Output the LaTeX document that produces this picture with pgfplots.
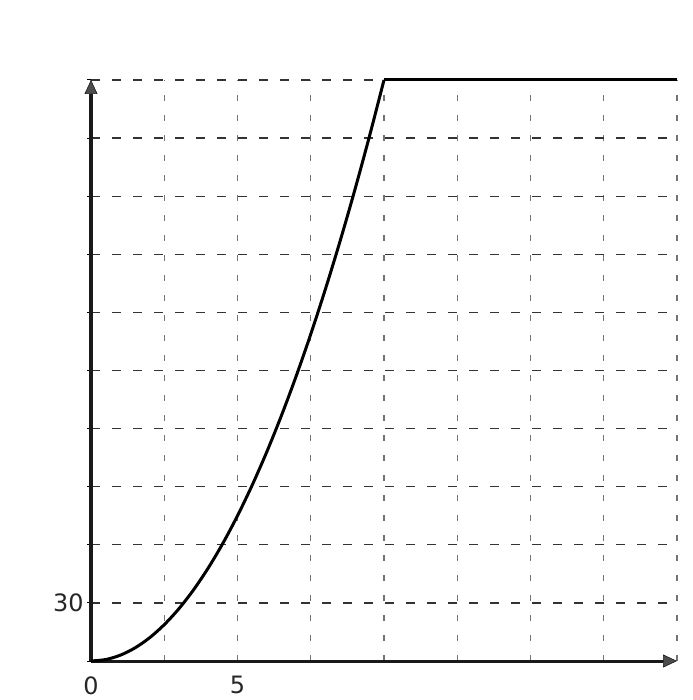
\documentclass[border=0pt]{standalone}
\usepackage{fontspec}
\setmainfont{DejaVu Sans}
\usepackage{pgfplots}
\pgfplotsset{compat=1.18}
\usetikzlibrary{arrows.meta}

\begin{document}
\begin{tikzpicture}
\begin{axis}[
  name=ax,
  width=586bp, height=581bp,
  scale only axis,
  xmin=0, xmax=20,
  ymin=0, ymax=300,
  axis lines=left,
  axis line style={line width=3bp, black!90,
    -{Triangle[length=14bp,width=13bp,fill=black!70,line width=0.6bp]}},
  xtick={0,2.5,...,20},
  xticklabels={0,,5},
  ytick={0,30,...,300},
  yticklabels={,30},
  xtick style={draw=none},
  ytick style={black, line width=1bp},
  tick align=outside,
  major tick length=4bp,
  /pgf/number format/assume math mode=true,
  ticklabel style={font=\fontsize{24}{28}\selectfont, black!85},
  xticklabel style={yshift=-8bp},
  yticklabel style={xshift=0bp},
  grid=major,
  every major x grid/.style={black!55, line width=1.2bp, dash pattern=on 6bp off 14bp},
  every major y grid/.style={black!80, line width=1.2bp, dash pattern=on 9bp off 12bp},
  clip=false,
]
\addplot[black, line width=3bp, smooth] coordinates {
(0,0) (0.5,0.75) (1,3) (1.5,6.75) (2,12) (2.5,18.75) (3,27) (3.5,36.75)
(4,48) (4.5,60.75) (5,75) (5.5,90.75) (6,108) (6.5,126.75) (7,147)
(7.5,168.75) (8,192) (8.5,216.75) (9,243) (9.5,270.75) (10,300)
};
\addplot[black, line width=3bp] coordinates {(10,300) (20,300)};
\end{axis}
\path ([shift={(-91bp,-39bp)}]ax.south west) rectangle ([shift={(16bp,80bp)}]ax.north east);
\end{tikzpicture}
\end{document}
